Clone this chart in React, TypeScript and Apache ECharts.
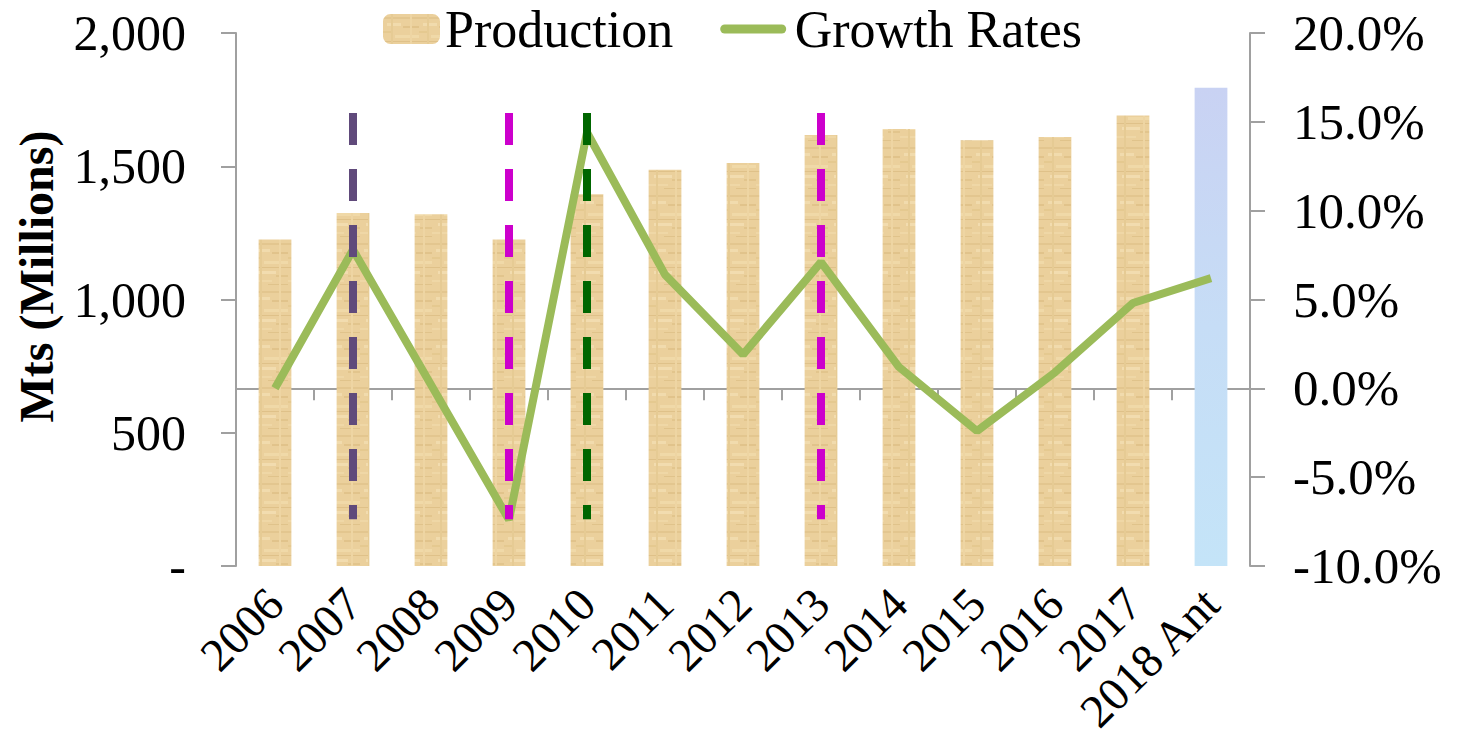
import React, { useEffect, useRef } from "react";
import * as echarts from "echarts";

// Annual production (Mts, millions) and year-on-year growth (%)
const categories = [
  "2006", "2007", "2008", "2009", "2010", "2011", "2012",
  "2013", "2014", "2015", "2016", "2017", "2018 Ant",
];
const production = [1225, 1325, 1320, 1225, 1395, 1487, 1512, 1617, 1640, 1598, 1610, 1690, 1795];
const growthRates = [0.0, 7.8, 0.2, -7.4, 14.4, 6.4, 1.9, 7.1, 1.2, -2.4, 0.9, 4.8, 6.2];

// Highlighted years marked with dashed verticals (values on the production axis)
const eventYears = ["2007", "2009", "2010", "2013"];
const eventTop = 1700;
const eventBottom = 175;

const eventColors = ["#604A7B", "#CC00CC", "#006600", "#CC00CC"];
const FONT = "'Liberation Serif', 'Times New Roman', serif";
const AXIS_GRAY = "#A0A0A0";
const GREEN = "#9BBB59";

// Papyrus-like fill for the production bars: a tan base with fixed light/dark streaks
function makePaperTexture(): HTMLCanvasElement {
  const c = document.createElement("canvas");
  c.width = 36;
  c.height = 48;
  const g = c.getContext("2d")!;
  g.fillStyle = "#EBD09C";
  g.fillRect(0, 0, 36, 48);
  const streaks: [number, number, number, number, string][] = [
    [0, 3, 36, 2, "#E3C68F"],
    [4, 9, 14, 3, "#F1DBAD"],
    [20, 12, 16, 2, "#E1C38B"],
    [0, 17, 10, 2, "#E5C990"],
    [12, 21, 24, 3, "#F0D9A8"],
    [0, 27, 36, 1, "#DFC189"],
    [6, 31, 18, 3, "#F2DCAF"],
    [24, 35, 12, 2, "#E2C58D"],
    [0, 40, 20, 2, "#EFD7A6"],
    [16, 44, 20, 1, "#E0C38B"],
    [8, 0, 2, 48, "#E6CB94"],
    [27, 0, 2, 48, "#EED5A3"],
  ];
  streaks.forEach(([x, y, w, h, col]) => {
    g.fillStyle = col;
    g.fillRect(x, y, w, h);
  });
  return c;
}

export default function App() {
  const ref = useRef<HTMLDivElement>(null);

  useEffect(() => {
    if (!ref.current) return;
    document.body.style.margin = "0";
    const chart = echarts.init(ref.current, null, { renderer: "svg" });

    const paper = { image: makePaperTexture(), repeat: "repeat" };
    const anticipated = new echarts.graphic.LinearGradient(0, 0, 0, 1, [
      { offset: 0, color: "#C9D2F3" },
      { offset: 0.5, color: "#C6DDF6" },
      { offset: 1, color: "#C4E4F8" },
    ]);

    chart.setOption({
      animation: false,
      backgroundColor: "#FFFFFF",
      textStyle: { fontFamily: FONT, color: "#000" },
      grid: { left: 236, right: 208, top: 33, bottom: 178, containLabel: false },
      legend: {
        left: 383,
        top: 3,
        padding: 0,
        itemWidth: 57,
        itemHeight: 30,
        itemGap: 47,
        textStyle: { fontFamily: FONT, fontSize: 52, color: "#000" },
        data: [
          { name: "Production" },
          {
            name: "Growth Rates",
            itemStyle: { opacity: 0 },
            lineStyle: { width: 9, color: GREEN, cap: "round" },
            textStyle: { padding: [0, 0, 0, 8] },
          },
        ],
      },
      xAxis: [
        {
          type: "category",
          data: categories,
          position: "bottom",
          axisLine: { show: false },
          axisTick: { show: false },
          axisLabel: {
            rotate: 45,
            fontSize: 47,
            fontFamily: FONT,
            color: "#000",
            margin: 30,
            interval: 0,
          },
        },
        {
          type: "category",
          data: categories,
          position: "top",
          axisLine: {
            show: true,
            onZero: true,
            onZeroAxisIndex: 1,
            lineStyle: { color: AXIS_GRAY, width: 2 },
          },
          axisTick: { show: true, inside: true, length: 12, lineStyle: { color: AXIS_GRAY, width: 2 } },
          axisLabel: { show: false },
        },
      ],
      yAxis: [
        {
          type: "value",
          min: 0,
          max: 2000,
          interval: 500,
          name: "Mts (Millions)",
          nameLocation: "middle",
          nameRotate: 90,
          nameGap: 176,
          nameTextStyle: {
            fontFamily: FONT,
            fontSize: 48,
            fontWeight: "bold",
            color: "#000",
            padding: [0, 0, 0, 46],
          },
          axisLine: { show: true, lineStyle: { color: AXIS_GRAY, width: 2 } },
          axisTick: { show: true, length: 15, lineStyle: { color: AXIS_GRAY, width: 2 } },
          splitLine: { show: false },
          axisLabel: {
            fontSize: 50,
            fontFamily: FONT,
            color: "#000",
            margin: 50,
            formatter: (v: number) => (v === 0 ? "-" : v.toLocaleString("en-US")),
          },
        },
        {
          type: "value",
          min: -10,
          max: 20,
          interval: 5,
          position: "right",
          axisLine: { show: true, lineStyle: { color: AXIS_GRAY, width: 2 } },
          axisTick: { show: true, length: 15, lineStyle: { color: AXIS_GRAY, width: 2 } },
          splitLine: { show: false },
          axisLabel: {
            fontSize: 51,
            fontFamily: FONT,
            color: "#000",
            margin: 43,
            formatter: (v: number) => v.toFixed(1) + "%",
          },
        },
      ],
      series: [
        {
          name: "Production",
          type: "bar",
          xAxisIndex: 0,
          yAxisIndex: 0,
          barWidth: "42%",
          itemStyle: { color: paper },
          data: production.map((v, i) =>
            i === production.length - 1 ? { value: v, itemStyle: { color: anticipated } } : v
          ),
        },
        {
          name: "Growth Rates",
          type: "line",
          xAxisIndex: 0,
          yAxisIndex: 1,
          symbol: "none",
          lineStyle: { color: GREEN, width: 8 },
          itemStyle: { color: GREEN },
          data: growthRates,
        },
        {
          name: "events",
          type: "line",
          xAxisIndex: 0,
          yAxisIndex: 0,
          data: [],
          z: 5,
          markLine: {
            silent: true,
            symbol: "none",
            label: { show: false },
            data: eventYears.map((year, i) => [
              {
                coord: [year, eventTop],
                lineStyle: { color: eventColors[i], width: 8, type: [32, 24] },
              },
              { coord: [year, eventBottom] },
            ]),
          },
        },
      ],
    });

    return () => chart.dispose();
  }, []);

  return <div ref={ref} style={{ width: 1458, height: 744 }} />;
}
